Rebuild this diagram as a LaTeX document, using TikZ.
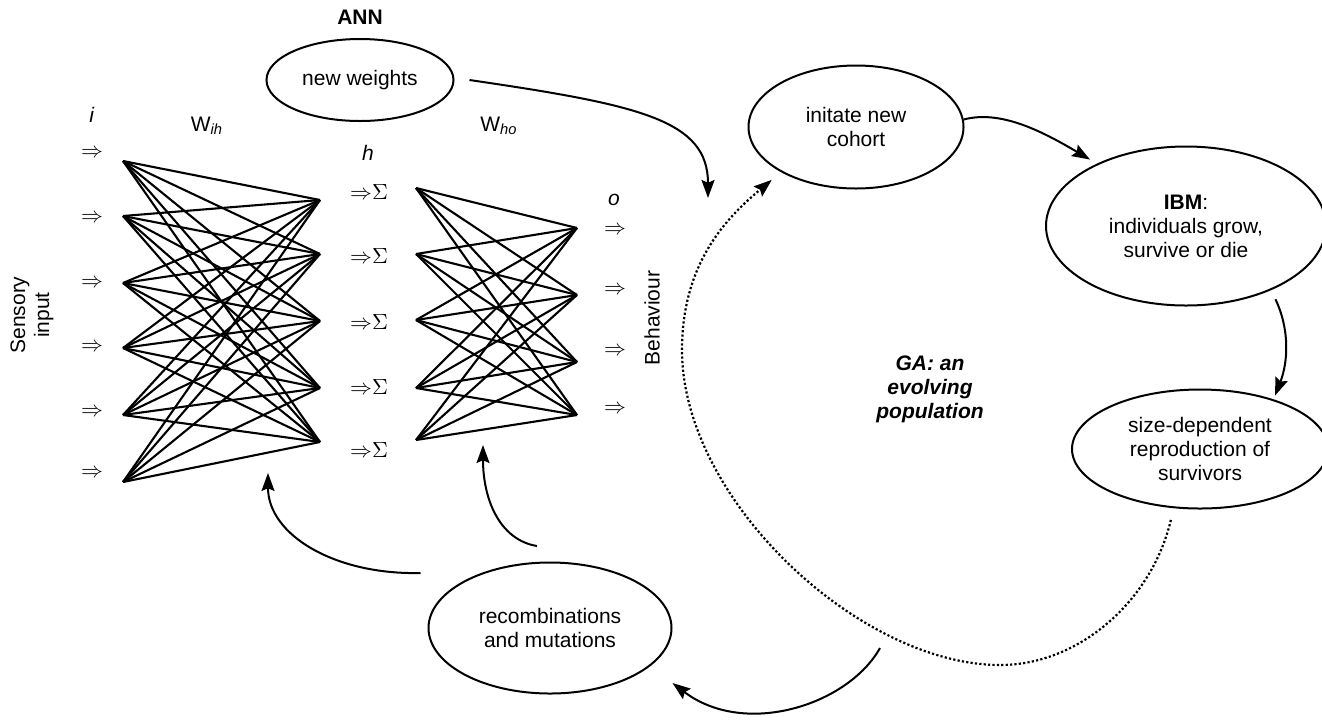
\documentclass[tikz,border=0pt]{standalone}
\usepackage[no-math]{fontspec}
\setmainfont{Liberation Sans}
\usetikzlibrary{shapes.geometric}
\usetikzlibrary{arrows.meta}

\tikzset{
    bubble/.style={draw, ellipse, line width=1pt, inner sep=0pt, align=center},
    flow/.style={-{Stealth[length=9pt, width=6.5pt, inset=1.4pt]}, line width=1pt},
    gaflow/.style={flow, line width=1.1pt, dash pattern=on 1.1pt off 1.1pt},
    wline/.style={line width=1.05pt},
    sym/.style={font=\fontsize{11}{12}\selectfont, inner sep=0pt},
}

\begin{document}
\begin{tikzpicture}[x=0.5pt, y=-0.5pt, font=\fontsize{10.5}{12}\selectfont]
    \useasboundingbox (0,0) rectangle (1322,719);
    \foreach \n/\y in {1/161,2/216,3/283,4/348,5/415,6/482}
        \coordinate (in\n) at (123,\y);
    \foreach \n/\y in {1/200,2/254,3/321,4/388,5/442}
        \coordinate (hl\n) at (320,\y);
    \foreach \n/\y in {1/188,2/254,3/320,4/388,5/440}
        \coordinate (hr\n) at (416,\y);
    \foreach \n/\y in {1/228,2/295,3/362,4/415}
        \coordinate (out\n) at (577,\y);
    \foreach \a in {1,...,6}
        \foreach \b in {1,...,5}
            \draw[wline] (in\a) -- (hl\b);
    \foreach \a in {1,...,5}
        \foreach \b in {1,...,4}
            \draw[wline] (hr\a) -- (out\b);
    \foreach \n/\y in {1/153,2/218,3/283,4/347,5/412,6/473}
        \node[sym] (inarr\n) at (92,\y) {$\Rightarrow$};
    \foreach \n/\y in {1/192,2/256,3/322,4/387,5/450}
        \node[sym] (sum\n) at (369,\y) {${\Rightarrow}\Sigma$};
    \foreach \n/\y in {1/230,2/290,3/351,4/409}
        \node[sym] (outarr\n) at (615,\y) {$\Rightarrow$};
    \node (ilab) at (92,115) {\textit{i}};
    \node (wih) at (207,126) {W\textsubscript{\textit{ih}}};
    \node (hlab) at (368,153) {\textit{h}};
    \node (who) at (499,126) {W\textsubscript{\textit{ho}}};
    \node (olab) at (614,200) {\textit{o}};
    \node[rotate=90, align=center] (sens) at (32,315) {Sensory\\input};
    \node[rotate=90] (beh) at (652,318) {Behaviour};
    \node[font=\fontsize{10.5}{12}\selectfont\bfseries] (ann) at (360,17) {ANN};

    \node[bubble, minimum width=93.5pt, minimum height=41pt] (nw) at (360,80) {new weights};
    \node[bubble, minimum width=107.5pt, minimum height=61.5pt] (init) at (856,127) {initate new\\cohort};
    \node[bubble, minimum width=140pt, minimum height=79.5pt] (ibm) at (1186,226) {\textbf{IBM}:\\individuals grow,\\survive or die};
    \node[bubble, minimum width=128pt, minimum height=59.5pt] (size) at (1200,449) {size-dependent\\reproduction of\\survivors};
    \node[bubble, minimum width=121.5pt, minimum height=65.5pt] (recomb) at (550,628) {recombinations\\and mutations};
    \node[font=\fontsize{10.5}{12}\selectfont\bfseries\itshape, align=center] (ga) at (930,389) {GA: an\\evolving\\population};

    \coordinate (wtip) at (708,198);
    \coordinate (gaout) at (880,648);
    \coordinate (wihtip) at (268,473);
    \coordinate (whotip) at (483,445);
    \draw[flow] ([xshift=7.5pt]nw.east) .. controls (640,105) and (708,120) .. (wtip);
    \draw[flow, shorten >=4pt] (init.4) .. controls (1000,110) and (1040,130) .. (ibm.145);
    \draw[flow, shorten <=5pt, shorten >=2pt] (ibm.323) .. controls (1290,330) and (1288,362) .. (size.34);
    \draw[gaflow, shorten <=6pt, shorten >=6pt] (size.246) .. controls (1152,600) and (1080,665) .. (1000,665)
        .. controls (860,665) and (682,500) .. (682,350) .. controls (682,260) and (730,215) .. (init.211);
    \draw[flow] (gaout) .. controls (848,705) and (745,738) .. ([yshift=-27.5pt]recomb.east);
    \draw[flow] ([xshift=-3.5pt,yshift=27.5pt]recomb.west) .. controls (335,575) and (268,535) .. (wihtip);
    \draw[flow] ([xshift=-6.5pt,yshift=7.75pt]recomb.north) .. controls (500,540) and (483,500) .. (whotip);
\end{tikzpicture}
\end{document}
